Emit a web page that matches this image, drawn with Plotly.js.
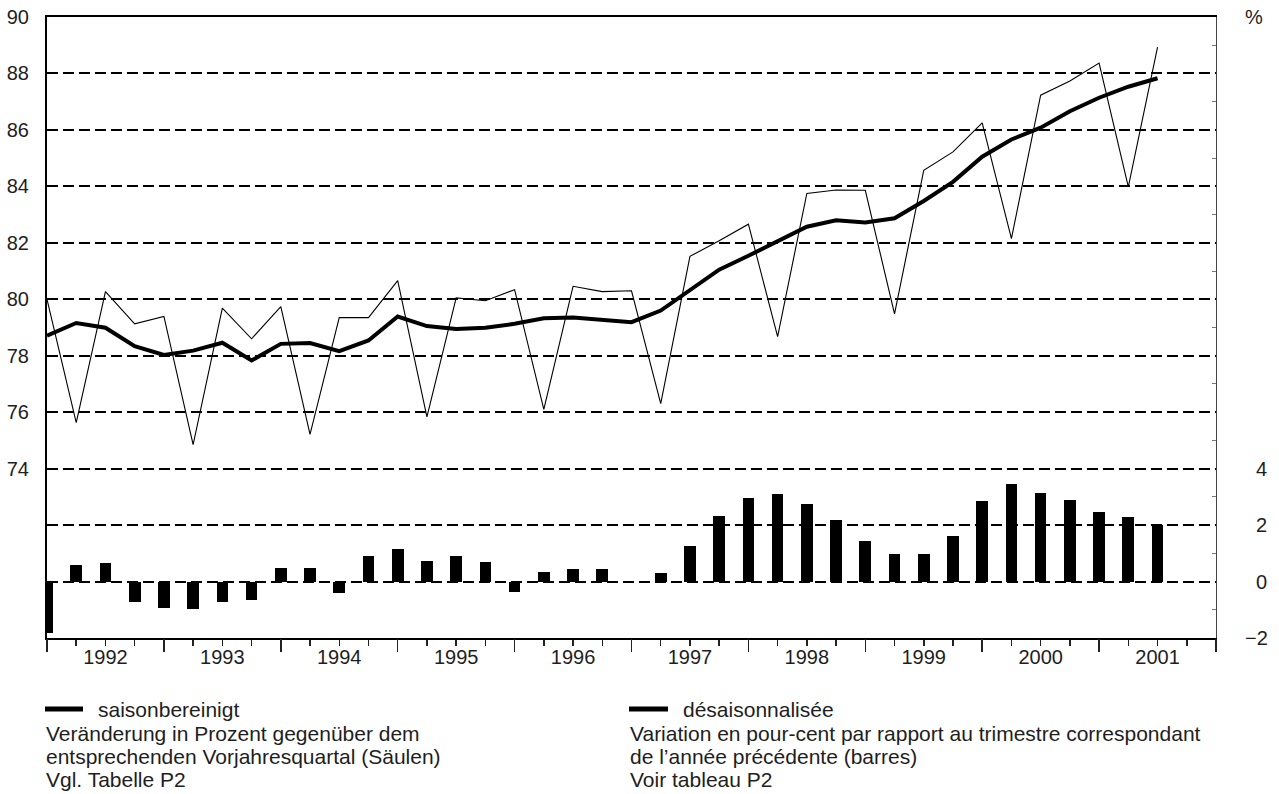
<!DOCTYPE html>
<html>
<head>
<meta charset="utf-8">
<script src="https://cdn.plot.ly/plotly-3.0.1.min.js"></script>
<style>
  html, body { margin: 0; padding: 0; background: #fff; }
  #chart { width: 1279px; height: 794px; }
</style>
</head>
<body>
<div id="chart"></div>
<script>
// Quarter labels (values plotted at the end of each quarter)
const quarters = [
  "1991 Q4",
  "1992 Q1","1992 Q2","1992 Q3","1992 Q4",
  "1993 Q1","1993 Q2","1993 Q3","1993 Q4",
  "1994 Q1","1994 Q2","1994 Q3","1994 Q4",
  "1995 Q1","1995 Q2","1995 Q3","1995 Q4",
  "1996 Q1","1996 Q2","1996 Q3","1996 Q4",
  "1997 Q1","1997 Q2","1997 Q3","1997 Q4",
  "1998 Q1","1998 Q2","1998 Q3","1998 Q4",
  "1999 Q1","1999 Q2","1999 Q3","1999 Q4",
  "2000 Q1","2000 Q2","2000 Q3","2000 Q4",
  "2001 Q1","2001 Q2"
];

// Unadjusted series (thin line), left axis
const unadjusted = [
  80.0, 75.63, 80.27, 79.13, 79.39, 74.85, 79.69, 78.6, 79.74, 75.21,
  79.35, 79.35, 80.66, 75.83, 80.05, 79.95, 80.34, 76.1, 80.46, 80.27,
  80.3, 76.3, 81.52, 82.07, 82.66, 78.68, 83.75, 83.87, 83.86, 79.48,
  84.57, 85.22, 86.25, 82.15, 87.23, 87.73, 88.37, 83.98, 88.93
];

// Seasonally adjusted series (thick line), left axis
const adjusted = [
  78.71, 79.16, 78.99, 78.34, 78.03, 78.18, 78.46, 77.83, 78.42, 78.45,
  78.16, 78.54, 79.39, 79.05, 78.95, 78.99, 79.13, 79.33, 79.35, 79.27,
  79.19, 79.6, 80.33, 81.05, 81.54, 82.07, 82.57, 82.8, 82.72, 82.87,
  83.48, 84.16, 85.05, 85.66, 86.08, 86.66, 87.14, 87.53, 87.83
];

// Change vs same quarter of previous year, % (bars), right axis
const yoyChange = [
  -1.81, 0.57, 0.66, -0.71, -0.92, -0.99, -0.71, -0.67, 0.48, 0.48,
  -0.41, 0.92, 1.17, 0.74, 0.92, 0.70, -0.38, 0.35, 0.45, 0.45,
  0, 0.31, 1.27, 2.31, 2.95, 3.10, 2.74, 2.17, 1.42, 0.99,
  0.99, 1.60, 2.85, 3.45, 3.13, 2.88, 2.45, 2.27, 1.99
];

// Axis ticks
const yearLabels = ["1992","1993","1994","1995","1996","1997","1998","1999","2000","2001"];
const leftTickVals = [70, 72, 74, 76, 78, 80, 82, 84, 86, 88, 90];
const leftTickText = ["", "", "74", "76", "78", "80", "82", "84", "86", "88", "90"];
const rightTickVals = [-2, 0, 2, 4, 20];
const rightTickText = ["\u22122", "\u20070", "\u20072", "\u20074", "%"];

// Legend / note texts
const notesDE = ["saisonbereinigt",
  "Veränderung in Prozent gegenüber dem",
  "entsprechenden Vorjahresquartal (Säulen)",
  "Vgl. Tabelle P2"];
const notesFR = ["désaisonnalisée",
  "Variation en pour-cent par rapport au trimestre correspondant",
  "de l\u2019année précédente (barres)",
  "Voir tableau P2"];

// quarter label -> position on time axis (end of quarter)
function qpos(s) {
  const parts = s.split(" Q");
  return parseInt(parts[0], 10) + parseInt(parts[1], 10) / 4;
}
const xq = quarters.map(qpos);
const yearMid = yearLabels.map(y => parseInt(y, 10) + 0.5);
const yearStarts = yearLabels.map(y => parseInt(y, 10)).concat([parseInt(yearLabels[yearLabels.length - 1], 10) + 1]);

const FONT = "Liberation Sans, Arial, Helvetica, sans-serif";
const TXT = "#1e1e1e";

const traces = [
  {
    type: "bar", x: xq, y: yoyChange, xaxis: "x2", yaxis: "y2",
    width: 0.1, marker: { color: "#000", line: { width: 0 } },
    hoverinfo: "skip", showlegend: false
  },
  {
    type: "scatter", mode: "lines", x: xq, y: unadjusted,
    line: { color: "#000", width: 1.1 }, showlegend: false
  },
  {
    type: "scatter", mode: "lines", x: xq, y: adjusted,
    line: { color: "#000", width: 4 }, showlegend: false
  }
];

const W = 1279, H = 794, ml = 47, mr = 63, mt = 17, mb = 156;
const pw = W - ml - mr, ph = H - mt - mb;
const px = v => (v - ml) / pw;
const py = v => (H - mb - v) / ph;

const rowsY = [709, 733, 756, 779];
const annotations = [];
notesDE.forEach((t, i) => {
  annotations.push({
    xref: "paper", yref: "paper", x: px(i === 0 ? 96 : 44), y: py(rowsY[i]),
    xanchor: "left", yanchor: "middle", showarrow: false, text: t,
    font: { family: FONT, size: 21, color: TXT }
  });
});
notesFR.forEach((t, i) => {
  annotations.push({
    xref: "paper", yref: "paper", x: px(i === 0 ? 681 : 628), y: py(rowsY[i]),
    xanchor: "left", yanchor: "middle", showarrow: false, text: t,
    font: { family: FONT, size: 21, color: TXT }
  });
});

const shapes = [
  { type: "line", xref: "paper", yref: "paper", x0: px(45), x1: px(83), y0: py(709), y1: py(709), line: { color: "#000", width: 5 } },
  { type: "line", xref: "paper", yref: "paper", x0: px(629), x1: px(668), y0: py(709), y1: py(709), line: { color: "#000", width: 5 } }
];

const layout = {
  width: W, height: H,
  margin: { l: ml, r: mr, t: mt, b: mb, pad: 0 },
  paper_bgcolor: "#fff", plot_bgcolor: "#fff",
  font: { family: FONT, color: TXT, size: 19 },
  showlegend: false,
  bargap: 0,
  xaxis: {
    range: [1992, 2002], tickmode: "array", tickvals: yearMid, ticktext: yearLabels,
    ticks: "outside", ticklen: 6, tickwidth: 1.5, tickcolor: "#222",
    minor: { tick0: 1992, dtick: 0.25, ticks: "outside", ticklen: 6, tickwidth: 1.5, tickcolor: "#222" },
    showline: true, linewidth: 2, linecolor: "#000", mirror: true,
    showgrid: false, zeroline: false, fixedrange: true,
    ticklabelstandoff: -6,
    tickfont: { family: FONT, size: 20, color: TXT }
  },
  xaxis2: {
    overlaying: "x", anchor: "y2", side: "bottom", range: [1992, 2002],
    tickmode: "array", tickvals: yearStarts, ticks: "outside", ticklen: 13, tickwidth: 1.5, tickcolor: "#222",
    showticklabels: false, showline: false, showgrid: false, zeroline: false
  },
  yaxis: {
    range: [68, 90], tickmode: "array", tickvals: leftTickVals, ticktext: leftTickText,
    ticks: "", showgrid: true, gridcolor: "#000", gridwidth: 2, griddash: "11px,5px",
    showline: true, linewidth: 2, linecolor: "#000", zeroline: false,
    ticklabelstandoff: 12,
    tickfont: { family: FONT, size: 20, color: TXT }
  },
  yaxis2: {
    overlaying: "y", anchor: "x2", side: "right", range: [-2, 20],
    tickmode: "array", tickvals: rightTickVals, ticktext: rightTickText,
    ticks: "", showgrid: false, zeroline: false,
    minor: { tick0: 1, dtick: 2, ticks: "inside", ticklen: 4, tickwidth: 1, tickcolor: "#777" },
    showline: true, linewidth: 1, linecolor: "#444",
    ticklabelstandoff: 24,
    tickfont: { family: FONT, size: 20, color: TXT }
  },
  annotations: annotations,
  shapes: shapes
};

Plotly.newPlot("chart", traces, layout, { staticPlot: true, displayModeBar: false });
</script>
</body>
</html>
